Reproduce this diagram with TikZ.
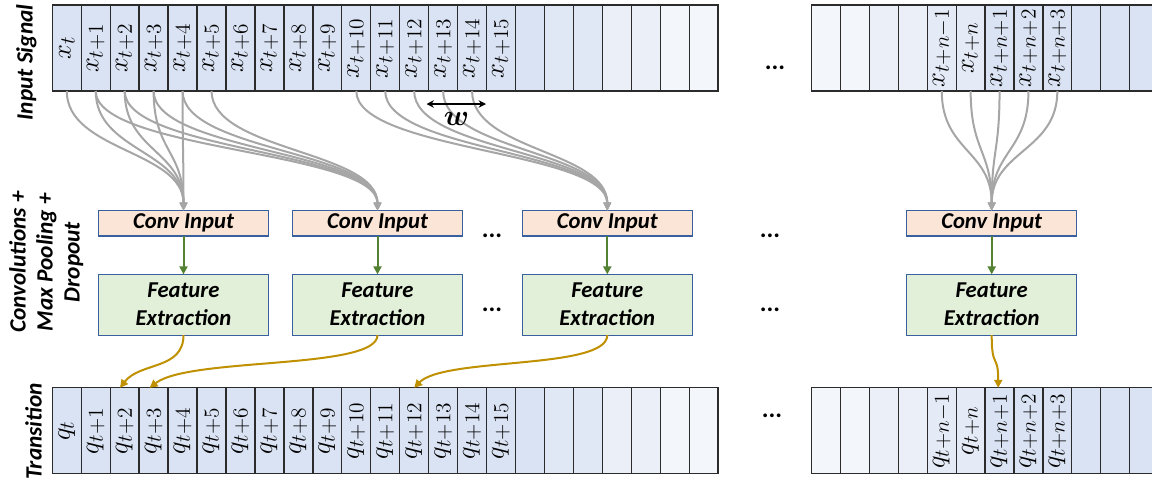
\RequirePackage{fix-cm}
\documentclass[tikz,border=0pt]{standalone}
\usepackage[no-math]{fontspec}
\setmainfont{Carlito}
\usepackage{bm}
\DeclareMathSizes{20}{20}{16}{12}
\DeclareMathSizes{22}{22}{16}{12}
\usetikzlibrary{arrows.meta}
\definecolor{cellA}{HTML}{DAE3F3}
\definecolor{cellB}{HTML}{E1E8F5}
\definecolor{cellC}{HTML}{EAEFF8}
\definecolor{cellE}{HTML}{E4EAF6}
\definecolor{cellD}{HTML}{F3F6FB}
\definecolor{cellline}{HTML}{2B2B2B}
\definecolor{boxline}{HTML}{3A5F9E}
\definecolor{convfill}{HTML}{FBE5D6}
\definecolor{featfill}{HTML}{E2F0D9}
\definecolor{grayc}{HTML}{A6A6A6}
\definecolor{greenc}{HTML}{548235}
\definecolor{goldc}{HTML}{BF9000}
\begin{document}
\begin{tikzpicture}[x=0.75pt,y=-0.75pt,
  cell/.style={draw=cellline, line width=1pt, minimum width=21.7pt, minimum height=64.5pt, inner sep=0pt, outer sep=0pt},
  lab/.style={rotate=90, font=\fontsize{20}{24}\selectfont, inner sep=0pt},
  boxbase/.style={draw=boxline, line width=0.8pt, minimum width=127.5pt, inner sep=0pt, outer sep=0pt, font=\fontsize{17}{21}\selectfont\bfseries\itshape, align=center},
  convbox/.style={boxbase, fill=convfill, minimum height=19pt},
  featbox/.style={boxbase, fill=featfill, minimum height=45.5pt},
  side/.style={rotate=90, anchor=base, inner sep=0pt, font=\fontsize{17.5}{21}\selectfont\bfseries\itshape},
  dotsn/.style={inner sep=0pt, font=\fontsize{19}{21}\selectfont\bfseries},
  grayarr/.style={draw=grayc, line width=1.5pt, -{Triangle[length=6pt,width=5.5pt]}},
  greenarr/.style={draw=greenc, line width=1.5pt, -{Triangle[length=6pt,width=6pt]}},
  goldarr/.style={draw=goldc, line width=1.5pt, -{Triangle[length=6pt,width=6pt]}},
  warr/.style={draw=black, line width=1.5pt, {Stealth[length=5.5pt,width=5.5pt]}-{Stealth[length=5.5pt,width=5.5pt]}}
]
\useasboundingbox (0,0) rectangle (1152,483);
\clip (0,0) rectangle (1152,483);

% ---------- top row (left part)
\foreach \i in {0,...,15} {
  \node[cell, fill=cellA] (t\i) at ({52.3+28.95*(\i+0.5)},48) {};
  \node[lab] (tl\i) at (t\i) {$x_{\ifnum\i=0 t\else t+\i\fi}$};
}
\foreach \i/\c in {16/cellA,17/cellB,18/cellB,19/cellC,20/cellC,21/cellD,22/cellD}
  \node[cell, fill=\c] (t\i) at ({52.3+28.95*(\i+0.5)},48) {};

% ---------- bottom row (left part)
\foreach \i in {0,...,15} {
  \node[cell, fill=cellA] (b\i) at ({52.3+28.95*(\i+0.5)},430.8) {};
  \node[lab] (bl\i) at (b\i) {$q_{\ifnum\i=0 t\else t+\i\fi}$};
}
\foreach \i/\c in {16/cellA,17/cellB,18/cellB,19/cellC,20/cellC,21/cellD,22/cellD}
  \node[cell, fill=\c] (b\i) at ({52.3+28.95*(\i+0.5)},430.8) {};

% ---------- right rows
\foreach \i/\c in {0/cellD,1/cellD,2/cellC,3/cellC,4/cellE,5/cellE,6/cellA,7/cellA,8/cellA,9/cellA,10/cellA,11/cellA} {
  \node[cell, fill=\c] (rt\i) at ({811.7+28.9*(\i+0.5)},48) {};
  \node[cell, fill=\c] (rb\i) at ({811.7+28.9*(\i+0.5)},430.8) {};
}
\foreach \i/\s in {4/t+n-1,5/t+n,6/t+n+1,7/t+n+2,8/t+n+3} {
  \node[lab] (rtl\i) at (rt\i) {$x_{\s}$};
  \node[lab] (rbl\i) at (rb\i) {$q_{\s}$};
}

% ---------- side labels
\node[side] (lin) at (32.5,62.5) {Input Signal};
\node[side] (lc1) at (25.5,262) {Convolutions +};
\node[side] (lc2) at (52.5,262) {Max Pooling +};
\node[side] (lc3) at (79.5,262) {Dropout};
\node[side] (ltr) at (41.5,431.5) {Transition};

% ---------- boxes
\node[convbox] (c1) at (183.5,223.3) {Conv Input};
\node[convbox] (c2) at (377.5,223.3) {Conv Input};
\node[convbox] (c3) at (607.3,223.3) {Conv Input};
\node[convbox] (c4) at (991.7,223.3) {Conv Input};
\node[featbox] (f1) at (183.5,304.7) {Feature\\Extraction};
\node[featbox] (f2) at (377.5,304.7) {Feature\\Extraction};
\node[featbox] (f3) at (607.3,304.7) {Feature\\Extraction};
\node[featbox] (f4) at (991.7,304.7) {Feature\\Extraction};

% ---------- dots
\node[dotsn] (d1) at (775,68) {...};
\node[dotsn] (d2) at (492,236) {...};
\node[dotsn] (d3) at (492,310) {...};
\node[dotsn] (d4) at (770,236) {...};
\node[dotsn] (d5) at (770,310) {...};
\node[dotsn] (d6) at (772,416) {...};

% ---------- gray input connectors
\foreach \i in {0,...,4}
  \draw[grayarr] (t\i.south) .. controls +(0,60) and +(0,-60) .. (c1.north);
\foreach \i in {1,...,5}
  \draw[grayarr] (t\i.south) .. controls +(0,60) and +(0,-60) .. (c2.north);
\foreach \i in {10,...,14}
  \draw[grayarr] (t\i.south) .. controls +(0,60) and +(0,-60) .. (c3.north);
\foreach \i in {4,...,8}
  \draw[grayarr] (rt\i.south) .. controls +(0,60) and +(0,-60) .. (c4.north);

% ---------- window width marker
\coordinate (wa) at (426.5,104);
\coordinate (wb) at (486,104);
\draw[warr] (wa) -- (wb);
\node[inner sep=0pt, font=\fontsize{22}{24}\selectfont] (wl) at (456.5,119) {$\bm{w}$};

% ---------- green connectors
\foreach \k in {1,...,4}
  \draw[greenarr] (c\k.south) -- (f\k.north);

% ---------- gold output connectors
\draw[goldarr] (f1.south) .. controls +(0,35) and +(20,-26) .. ([xshift=-3.5pt]b2.north);
\draw[goldarr] (f2.south) .. controls +(0,35) and +(40,-31) .. ([xshift=-3pt]b3.north);
\draw[goldarr] (f3.south) .. controls +(0,35) and +(30,-31) .. (b12.north);
\draw[goldarr] (f4.south) .. controls +(0,35) and +(0,-35) .. ([xshift=-1pt]rb6.north);
\end{tikzpicture}
\end{document}
